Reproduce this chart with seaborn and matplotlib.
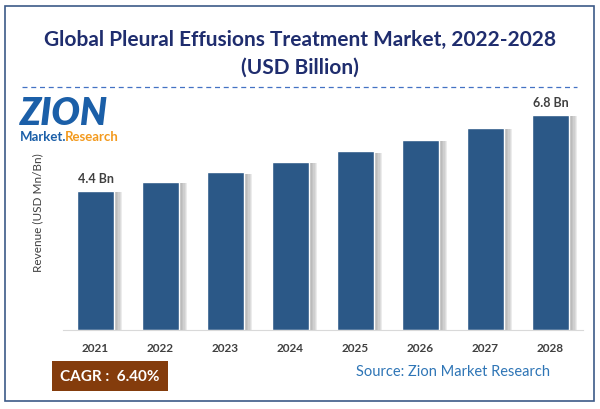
import matplotlib
matplotlib.use("Agg")
import matplotlib.pyplot as plt
import matplotlib.patheffects as pe
from matplotlib.patches import Rectangle
from matplotlib.lines import Line2D
import seaborn as sns
import pandas as pd

years = ["2021", "2022", "2023", "2024", "2025", "2026", "2027", "2028"]
revenue = [4.4, 4.68, 4.98, 5.30, 5.64, 6.00, 6.38, 6.8]
bar_labels = {"2021": "4.4 Bn", "2028": "6.8 Bn"}
title = "Global Pleural Effusions Treatment Market, 2022-2028\n(USD Billion)"
cagr_text = "CAGR :  6.40%"
source_text = "Source: Zion Market Research"

sns.set_style("white")
plt.rcParams["font.family"] = ["Lato", "DejaVu Sans"]

df = pd.DataFrame({"year": years, "revenue": revenue})

W, H = 600, 410
fig = plt.figure(figsize=(6, 4.1), dpi=100)
ax = fig.add_axes([63 / W, (H - 331) / H, 520 / W, (331 - 95) / H])

sns.barplot(data=df, x="year", y="revenue", color="#2B5887", saturation=1,
            width=0.57, ax=ax)
# soft shadow on the right side of each bar
shadow = [pe.SimplePatchShadow(offset=(k, -1), shadow_rgbFace="#8C8C8C", alpha=0.16)
          for k in (6, 5, 4, 3, 2)]
for p in ax.patches:
    p.set_path_effects(shadow + [pe.Normal()])

for i, y in enumerate(years):
    if y in bar_labels:
        ax.text(i, revenue[i] + 0.2, bar_labels[y], ha="center", va="bottom",
                fontsize=9, fontweight="bold", color="#404040")

ax.set_xlim(-0.5, 7.5)
ax.set_ylim(0, 7.45)
ax.set_yticks([])
ax.set_xlabel("")
ax.set_ylabel("Revenue (USD Mn/Bn)", fontsize=8.5, color="#404040", labelpad=14)
ax.tick_params(axis="x", length=0, pad=9, labelsize=8.5, labelcolor="#404040")
for lbl in ax.get_xticklabels():
    lbl.set_fontweight("bold")
for s in ["top", "right", "left"]:
    ax.spines[s].set_visible(False)
ax.spines["bottom"].set_color("#D9D9D9")

# frame and title
fig.add_artist(Rectangle((5 / W, 1 - 402 / H), 589 / W, 395 / H, transform=fig.transFigure,
                         fill=False, edgecolor="#3C5A88", linewidth=1.2))
fig.text(0.5, 1 - 54 / H, title, ha="center", va="center", fontsize=15, fontweight="bold",
         color="#1F2D6E", linespacing=1.45)
fig.add_artist(Line2D([22 / W, 577 / W], [1 - 88 / H, 1 - 88 / H], transform=fig.transFigure,
                      color="#4472C4", linewidth=0.9, linestyle=(0, (4, 3))))

# logo
fig.text(20 / W, 1 - 114 / H, "ZION", ha="left", va="center", fontsize=27, fontweight="heavy",
         color="#1B5FA8", fontstyle="italic")
fig.text(20 / W, 1 - 137 / H, "Market.", ha="left", va="center", fontsize=9.5, fontweight="bold",
         color="#1B5FA8")
fig.text(65 / W, 1 - 137 / H, "Research", ha="left", va="center", fontsize=9.5, fontweight="bold",
         color="#F39A1E")

# footer
fig.text(110 / W, 1 - 377 / H, cagr_text, ha="center", va="center", fontsize=11, fontweight="bold",
         color="white",
         bbox=dict(boxstyle="square,pad=0.55", facecolor="#843C0C", edgecolor="none"))
fig.text(453 / W, 1 - 372 / H, source_text, ha="center", va="center", fontsize=10.5,
         color="#2E75B6")

fig.savefig("out.png", dpi=100)
